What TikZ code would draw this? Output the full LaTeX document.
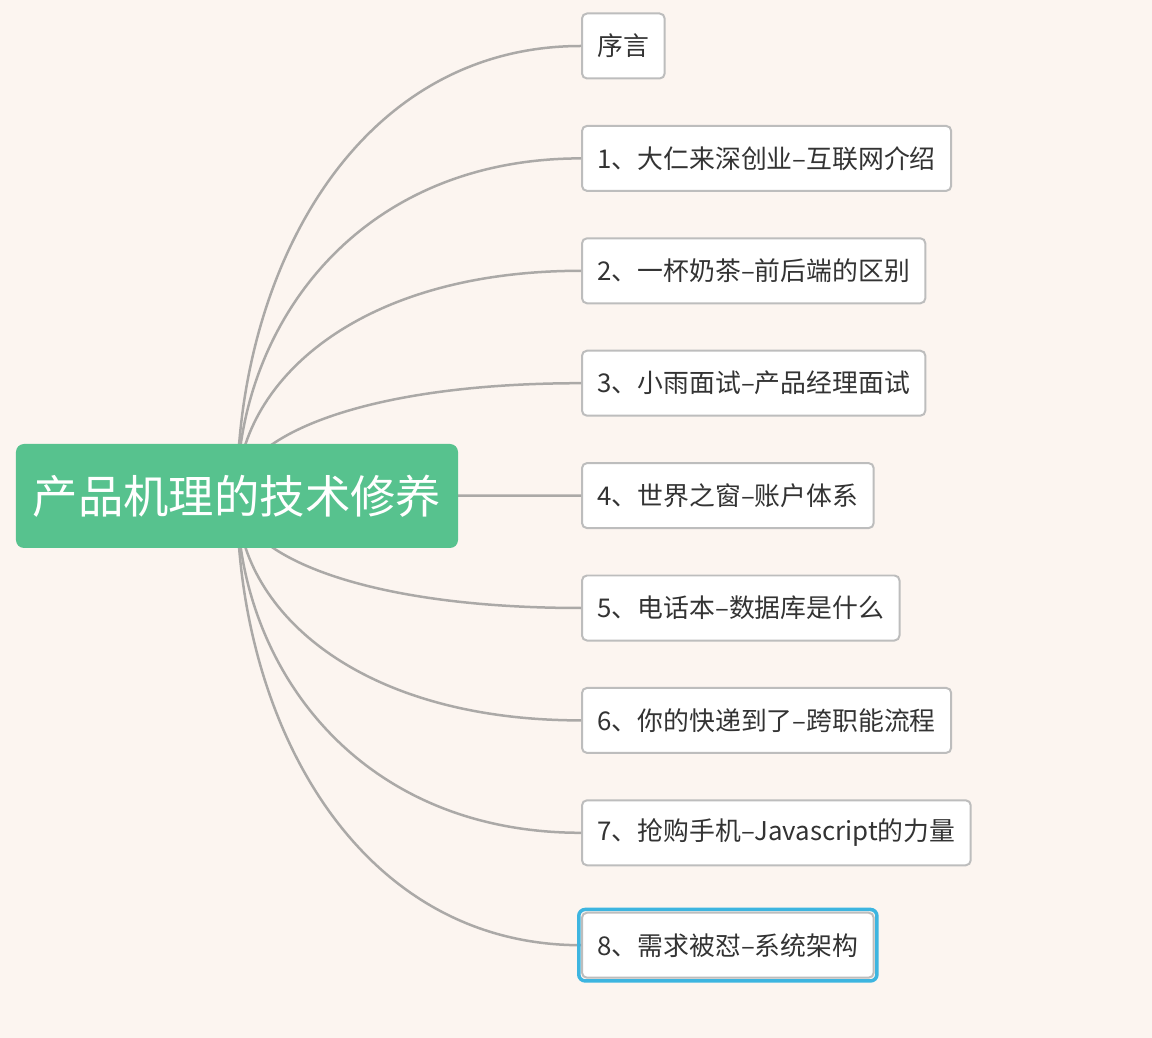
\documentclass[tikz,border=0pt]{standalone}
\usepackage{fontspec}
\setmainfont{Noto Sans CJK SC}
\usetikzlibrary{positioning,calc}
\definecolor{sfondo}{HTML}{FCF5F0}
\definecolor{verde}{HTML}{57C28E}
\definecolor{ramo}{HTML}{ABA9A7}
\definecolor{bordo}{HTML}{BDBDBD}
\definecolor{testo}{HTML}{333333}
\definecolor{azzurro}{HTML}{3DB5E0}

\tikzset{
    rootbox/.style={fill=verde, rounded corners=0.16cm, text=white, minimum width=8.84cm, minimum height=2.08cm, inner sep=0pt, font=\fontsize{25.8pt}{30pt}\selectfont},
    leaf/.style={draw=bordo, fill=white, line width=0.04cm, rounded corners=0.1cm, text=testo, minimum height=1.3cm, inner xsep=0.31cm, anchor=west, font=\fontsize{14.7pt}{17pt}\selectfont},
    branch/.style={draw=ramo, line width=0.05cm},
    selframe/.style={draw=azzurro, line width=0.07cm, rounded corners=0.13cm}
}

\begin{document}
\begin{tikzpicture}
    \fill[sfondo] (-4.74,-10.84) rectangle (18.30,9.92);
    \useasboundingbox (-4.74,-10.84) rectangle (18.30,9.92);

    \coordinate (hub) at (0,0);

    % capitoli
    \foreach \txt [count=\i from 0] in {序言, 1、大仁来深创业–互联网介绍, 2、一杯奶茶–前后端的区别, 3、小雨面试–产品经理面试, 4、世界之窗–账户体系, 5、电话本–数据库是什么, 6、你的快递到了–跨职能流程, 7、抢购手机–Javascript的力量, 8、需求被怼–系统架构}
        \node[leaf] (c\i) at (6.88, {9-2.248*\i}) {\txt};

    \foreach \i in {0,...,8}
        \draw[branch] (hub) .. controls ($(hub)!0.5!(hub |- c\i.west)$) and ($(c\i.west)+(-4.5,0)$) .. (c\i.west);

    \node[rootbox] (root) at (hub) {产品机理的技术修养};

    % cornice di selezione
    \draw[selframe] ([shift={(-0.045,0.045)}]c8.north west) rectangle ([shift={(0.045,-0.045)}]c8.south east);
\end{tikzpicture}
\end{document}
